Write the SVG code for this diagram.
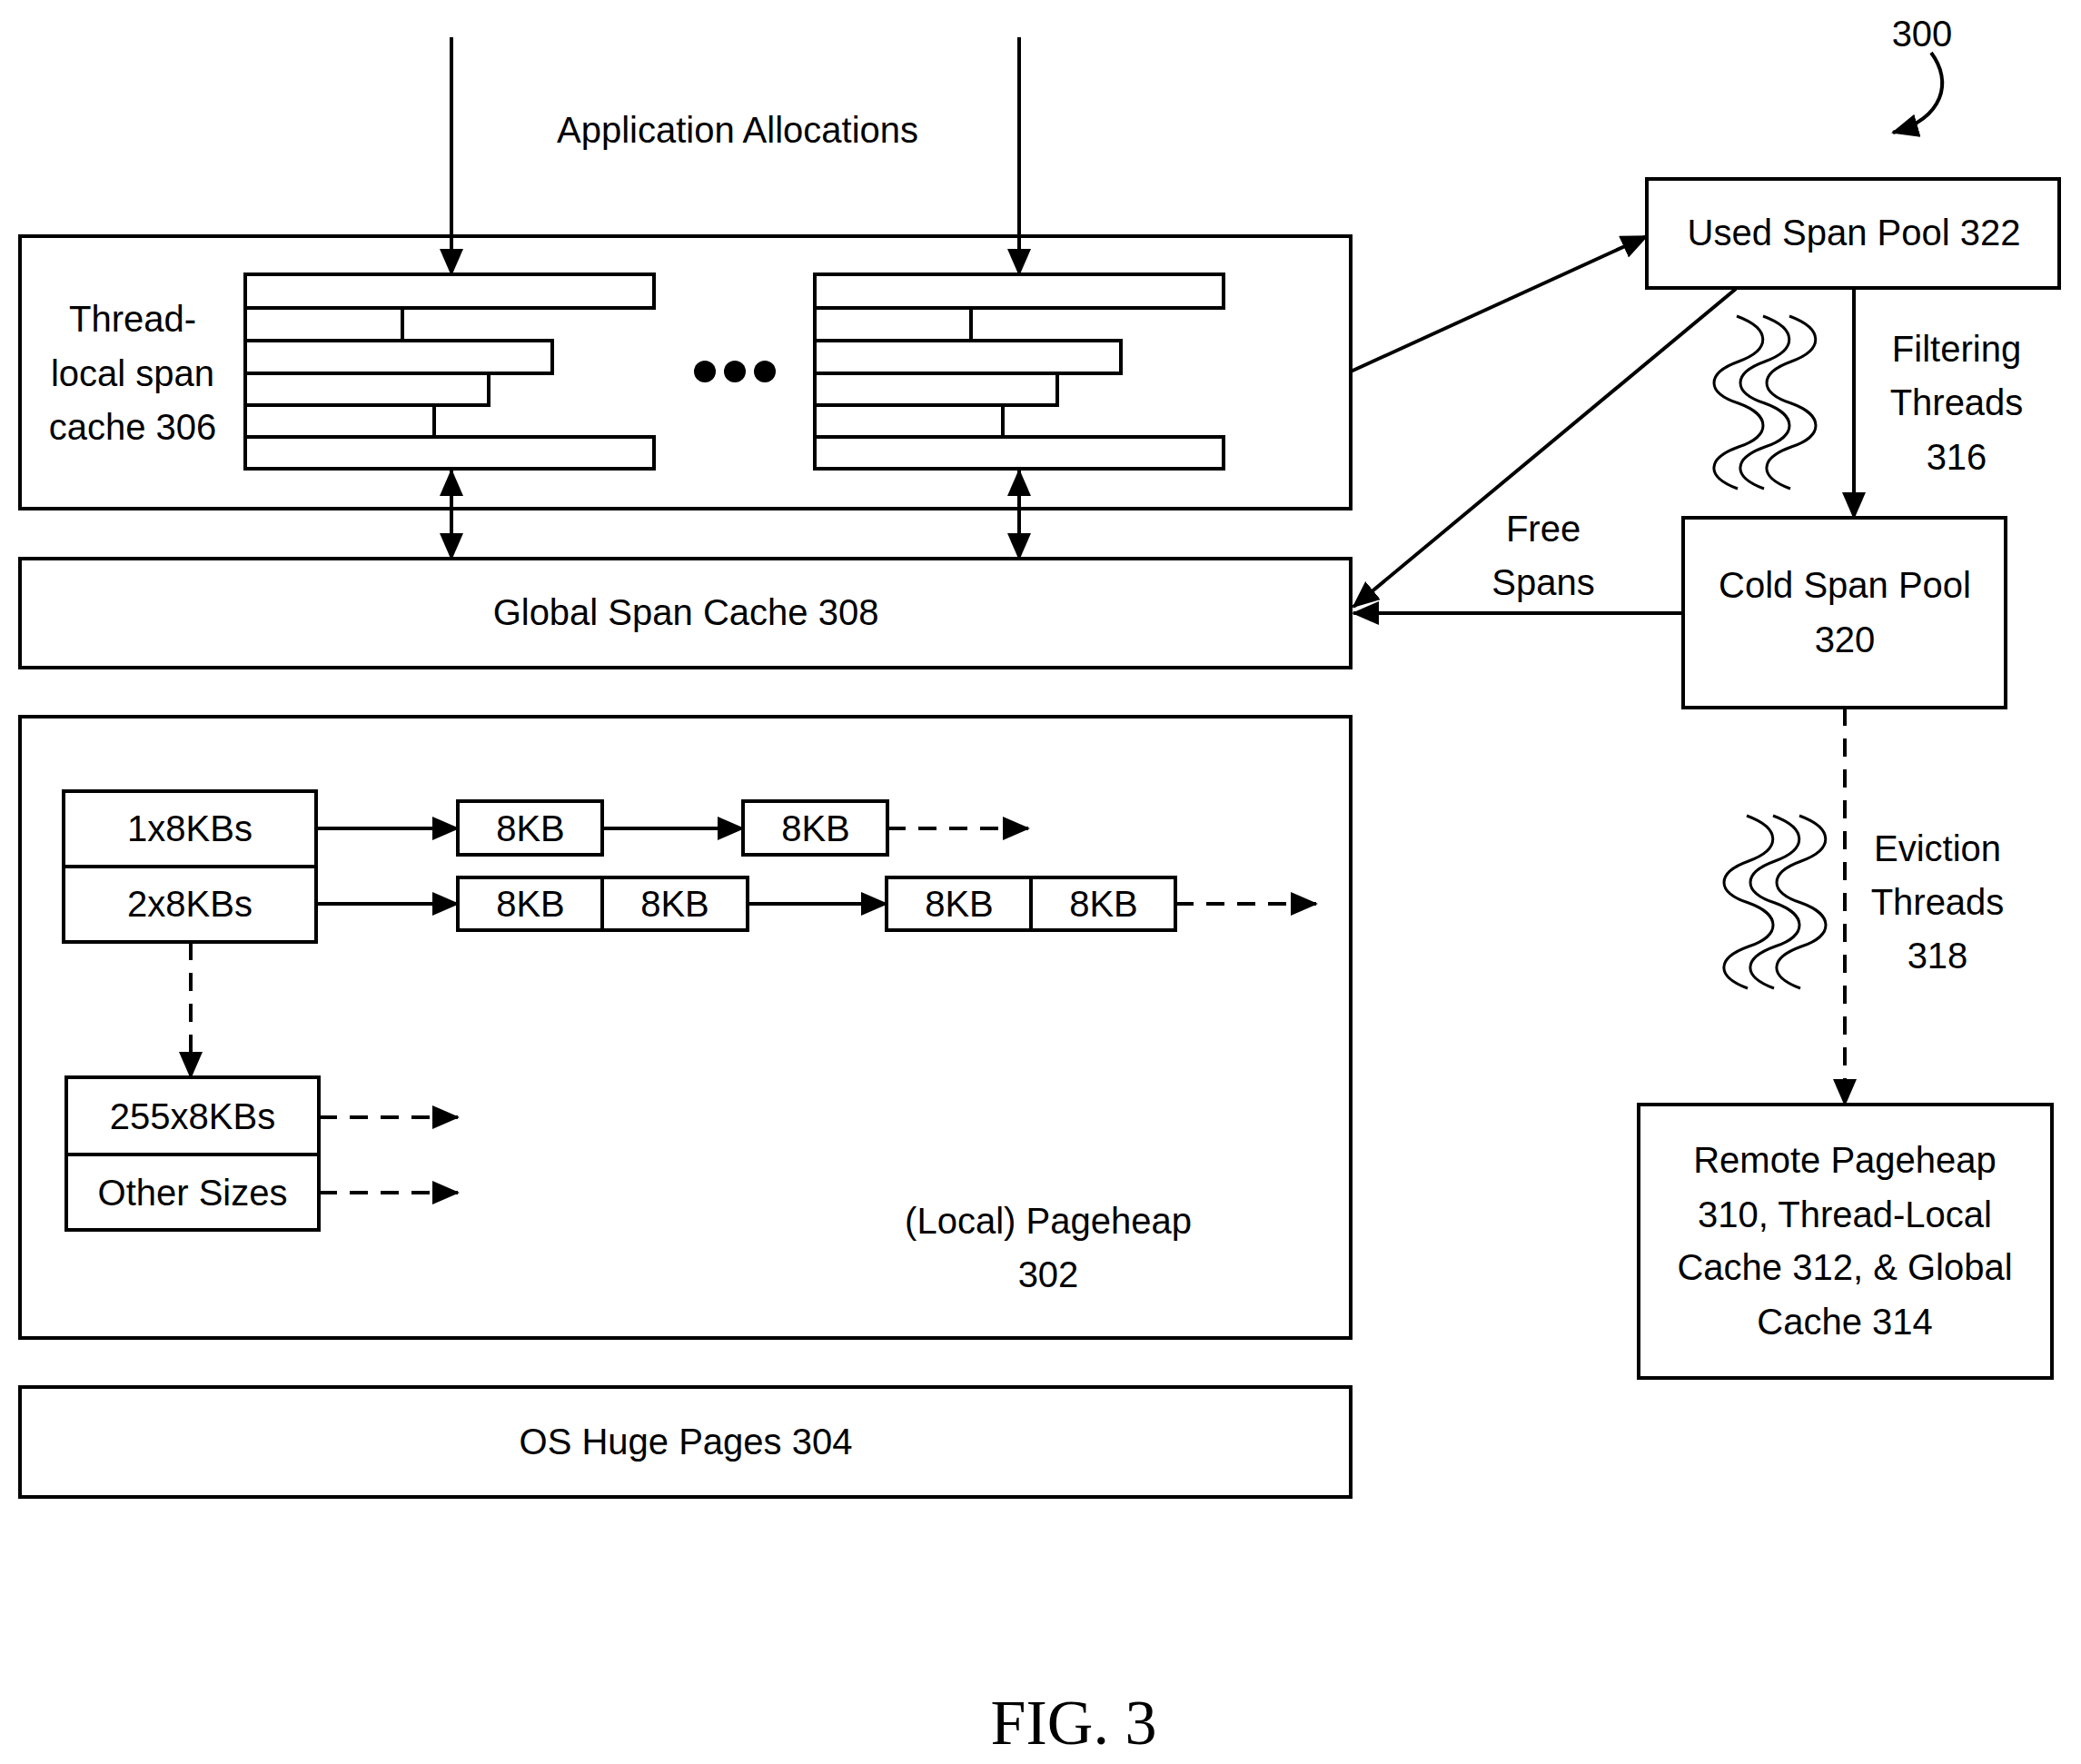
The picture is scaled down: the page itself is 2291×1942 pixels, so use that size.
<svg xmlns="http://www.w3.org/2000/svg" width="2291" height="1942" viewBox="0 0 2291 1942">
<style>
.b{fill:#fff;stroke:#000;stroke-width:4}
.t{font-family:"Liberation Sans","Open Sans",sans-serif;font-size:40px;text-anchor:middle;dominant-baseline:central;fill:#000}
.l{fill:none;stroke:#000;stroke-width:4}
.d{fill:none;stroke:#000;stroke-width:4;stroke-dasharray:20 14}
.w{fill:none;stroke:#000;stroke-width:3}
</style>
<defs>
<marker id="a" markerUnits="userSpaceOnUse" markerWidth="30" markerHeight="26" refX="28" refY="13" orient="auto-start-reverse"><path d="M0,0 L30,13 L0,26 Z" fill="#000"/></marker>
<path id="wv" d="M0,0 C38,14 38,37 2,50 C-34,63 -34,84 2,96 C38,109 38,132 2,144 C-34,157 -34,177 1,190"/>
</defs>
<rect width="2291" height="1942" fill="#fff"/>
<g id="thread-cache">
<rect class="b" x="22" y="260" width="1465" height="300"/>
<text class="t" x="146" y="351">Thread-</text>
<text class="t" x="146" y="411">local span</text>
<text class="t" x="146" y="470">cache 306</text>
<g class="b">
<rect x="270" y="302" width="450" height="37"/><rect x="270" y="339" width="173" height="36"/><rect x="270" y="375" width="338" height="36"/><rect x="270" y="411" width="268" height="35"/><rect x="270" y="446" width="208" height="35"/><rect x="270" y="481" width="450" height="35"/>
<rect x="897" y="302" width="450" height="37"/><rect x="897" y="339" width="172" height="36"/><rect x="897" y="375" width="337" height="36"/><rect x="897" y="411" width="267" height="35"/><rect x="897" y="446" width="207" height="35"/><rect x="897" y="481" width="450" height="35"/>
</g>
<circle cx="776" cy="409" r="12"/><circle cx="809" cy="409" r="12"/><circle cx="842" cy="409" r="12"/>
</g>
<g id="global-cache"><rect class="b" x="22" y="615" width="1465" height="120"/><text class="t" x="755" y="674">Global Span Cache 308</text></g>
<g id="pageheap">
<rect class="b" x="22" y="789" width="1465" height="684"/>
<rect class="b" x="70" y="871" width="278" height="83"/><text class="t" x="209" y="912">1x8KBs</text>
<rect class="b" x="70" y="954" width="278" height="83"/><text class="t" x="209" y="995">2x8KBs</text>
<rect class="b" x="504" y="882" width="159" height="59"/><text class="t" x="584" y="912">8KB</text>
<rect class="b" x="818" y="882" width="159" height="59"/><text class="t" x="898" y="912">8KB</text>
<rect class="b" x="504" y="966" width="159" height="58"/><text class="t" x="584" y="995">8KB</text>
<rect class="b" x="663" y="966" width="160" height="58"/><text class="t" x="743" y="995">8KB</text>
<rect class="b" x="976" y="966" width="159" height="58"/><text class="t" x="1056" y="995">8KB</text>
<rect class="b" x="1135" y="966" width="159" height="58"/><text class="t" x="1215" y="995">8KB</text>
<rect class="b" x="73" y="1186" width="278" height="85"/><text class="t" x="212" y="1229">255x8KBs</text>
<rect class="b" x="73" y="1271" width="278" height="83"/><text class="t" x="212" y="1313">Other Sizes</text>
<text class="t" x="1154" y="1344">(Local) Pageheap</text><text class="t" x="1154" y="1403">302</text>
</g>
<g id="os-pages"><rect class="b" x="22" y="1527" width="1465" height="121"/><text class="t" x="755" y="1587">OS Huge Pages 304</text></g>
<g id="used-pool"><rect class="b" x="1813" y="197" width="454" height="120"/><text class="t" x="2041" y="256">Used Span Pool 322</text></g>
<g id="cold-pool"><rect class="b" x="1853" y="570" width="355" height="209"/><text class="t" x="2031" y="644">Cold Span Pool</text><text class="t" x="2031" y="704">320</text></g>
<g id="remote"><rect class="b" x="1804" y="1216" width="455" height="301"/>
<text class="t" x="2031" y="1277">Remote Pageheap</text><text class="t" x="2031" y="1337">310, Thread-Local</text><text class="t" x="2031" y="1395">Cache 312, &amp; Global</text><text class="t" x="2031" y="1455">Cache 314</text></g>
<g id="labels">
<text class="t" x="812" y="143">Application Allocations</text>
<text class="t" x="1699" y="582">Free</text><text class="t" x="1699" y="641">Spans</text>
<text class="t" x="2154" y="384">Filtering</text><text class="t" x="2154" y="443">Threads</text><text class="t" x="2154" y="503">316</text>
<text class="t" x="2133" y="934">Eviction</text><text class="t" x="2133" y="993">Threads</text><text class="t" x="2133" y="1052">318</text>
<text class="t" x="2116" y="37">300</text>
<text x="1182" y="1920" style="font-family:'Liberation Serif',serif;font-size:70px;text-anchor:middle">FIG. 3</text>
</g>
<g id="connectors">
<line class="l" x1="497" y1="41" x2="497" y2="302" marker-end="url(#a)"/>
<line class="l" x1="1122" y1="41" x2="1122" y2="302" marker-end="url(#a)"/>
<line class="l" x1="497" y1="518" x2="497" y2="615" marker-start="url(#a)" marker-end="url(#a)"/>
<line class="l" x1="1122" y1="518" x2="1122" y2="615" marker-start="url(#a)" marker-end="url(#a)"/>
<line class="l" x1="1487" y1="409" x2="1813" y2="260" marker-end="url(#a)"/>
<line class="l" x1="1911" y1="318" x2="1490" y2="668" marker-end="url(#a)"/>
<line class="l" x1="1853" y1="675" x2="1490" y2="675" marker-end="url(#a)"/>
<line class="l" x1="2041" y1="318" x2="2041" y2="570" marker-end="url(#a)"/>
<line class="d" x1="2031" y1="779" x2="2031" y2="1216" marker-end="url(#a)"/>
<line class="l" x1="348" y1="912" x2="504" y2="912" marker-end="url(#a)"/>
<line class="l" x1="663" y1="912" x2="818" y2="912" marker-end="url(#a)"/>
<line class="d" x1="977" y1="912" x2="1132" y2="912" marker-end="url(#a)"/>
<line class="l" x1="348" y1="995" x2="504" y2="995" marker-end="url(#a)"/>
<line class="l" x1="823" y1="995" x2="976" y2="995" marker-end="url(#a)"/>
<line class="d" x1="1294" y1="995" x2="1449" y2="995" marker-end="url(#a)"/>
<line class="d" x1="210" y1="1037" x2="210" y2="1186" marker-end="url(#a)"/>
<line class="d" x1="351" y1="1230" x2="504" y2="1230" marker-end="url(#a)"/>
<line class="d" x1="351" y1="1313" x2="504" y2="1313" marker-end="url(#a)"/>
<path class="l" d="M2126,58 C2150,90 2140,130 2084,146" marker-end="url(#a)"/>
<g class="w">
<use href="#wv" x="1912" y="348"/><use href="#wv" x="1941" y="348"/><use href="#wv" x="1970" y="348"/>
<use href="#wv" x="1923" y="898"/><use href="#wv" x="1952" y="898"/><use href="#wv" x="1981" y="898"/>
</g>
</g>
</svg>
